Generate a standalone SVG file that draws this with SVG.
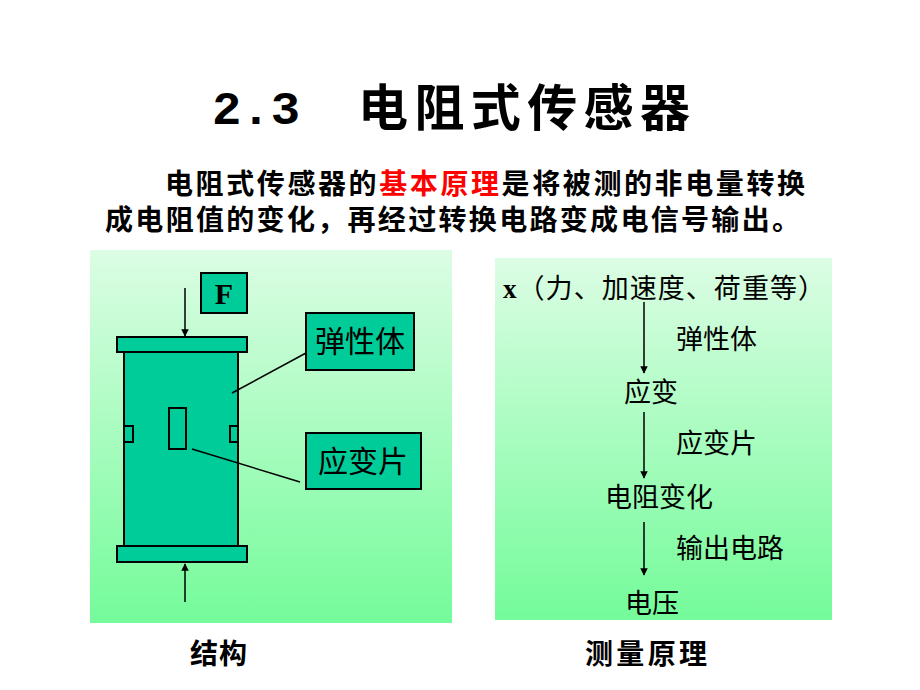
<svg xmlns="http://www.w3.org/2000/svg" width="920" height="690" viewBox="0 0 920 690">
<defs>
<linearGradient id="g" x1="0" y1="0" x2="0" y2="1"><stop offset="0" stop-color="#dcfde4"/><stop offset="1" stop-color="#74fb9a"/></linearGradient>
<marker id="a" viewBox="0 0 10 10" refX="9" refY="5" markerWidth="5" markerHeight="5" orient="auto"><path d="M0,0L10,5L0,10z" fill="#000"/></marker>
<style>
.cjk{font-family:"Liberation Serif","Noto Sans CJK SC",serif;font-weight:bold;fill:#000}
.s{font-family:"Noto Sans CJK SC",sans-serif;font-size:27px;fill:#000}
.b{fill:#00cc99;stroke:#000;stroke-width:2}
.ln{stroke:#000;stroke-width:1.5;fill:none}
</style>
</defs>
<rect width="920" height="690" fill="#fff"/>
<text x="212" y="124" style="font-family:'Liberation Mono',monospace;font-size:46px;font-weight:bold" textLength="88" lengthAdjust="spacingAndGlyphs">2.3</text>
<text x="358" y="126" class="cjk" font-size="50" textLength="332">电阻式传感器</text>
<text x="165" y="194" class="cjk" font-size="28" textLength="640">电阻式传感器的<tspan fill="#ff0000">基本原理</tspan>是将被测的非电量转换</text>
<text x="105" y="230" class="cjk" font-size="28" textLength="695">成电阻值的变化，再经过转换电路变成电信号输出。</text>
<g id="left">
<rect x="90" y="250" width="362" height="373" fill="url(#g)"/>
<g id="F"><rect class="b" x="201" y="273" width="46" height="40"/><text x="224" y="304" text-anchor="middle" font-family="Liberation Serif,serif" font-weight="bold" font-size="30">F</text></g>
<g id="body">
<rect class="b" x="124" y="352" width="114" height="194"/>
<rect class="b" x="117" y="337" width="130" height="15"/>
<rect class="b" x="117" y="546" width="130" height="16"/>
<rect class="b" x="124" y="426" width="9" height="16"/>
<rect class="b" x="230" y="426" width="8" height="16"/>
<rect class="b" x="169" y="408" width="17" height="41"/>
</g>
<g id="elastic"><rect class="b" x="306" y="313" width="108" height="57"/><text x="360" y="352" text-anchor="middle" class="s" style="font-size:30px">弹性体</text></g>
<g id="gauge"><rect class="b" x="306" y="433" width="115" height="56"/><text x="363" y="472" text-anchor="middle" class="s" style="font-size:30px">应变片</text></g>
<g id="conn1">
<line class="ln" x1="185" y1="288" x2="185" y2="336" marker-end="url(#a)"/>
<line class="ln" x1="185" y1="602" x2="185" y2="564" marker-end="url(#a)"/>
<line class="ln" x1="232" y1="393" x2="306" y2="353"/>
<line class="ln" x1="192" y1="449" x2="300" y2="482"/>
</g>
</g>
<g id="right">
<rect x="495" y="258" width="337" height="362" fill="url(#g)"/>
<text x="503" y="298" class="s" textLength="322"><tspan font-family="Liberation Serif,serif" font-weight="bold">x</tspan>（力、加速度、荷重等）</text>
<text x="676" y="349" class="s">弹性体</text>
<text x="624" y="402" class="s">应变</text>
<text x="676" y="453" class="s">应变片</text>
<text x="605" y="507" class="s">电阻变化</text>
<text x="676" y="558" class="s">输出电路</text>
<text x="625" y="613" class="s">电压</text>
<g id="conn2">
<line class="ln" x1="644" y1="302" x2="644" y2="373" marker-end="url(#a)"/>
<line class="ln" x1="644" y1="412" x2="644" y2="478" marker-end="url(#a)"/>
<line class="ln" x1="644" y1="522" x2="644" y2="575" marker-end="url(#a)"/>
</g>
</g>
<text x="190" y="664" class="cjk" font-size="28" textLength="57">结构</text>
<text x="585" y="664" class="cjk" font-size="28" textLength="122">测量原理</text>
</svg>
